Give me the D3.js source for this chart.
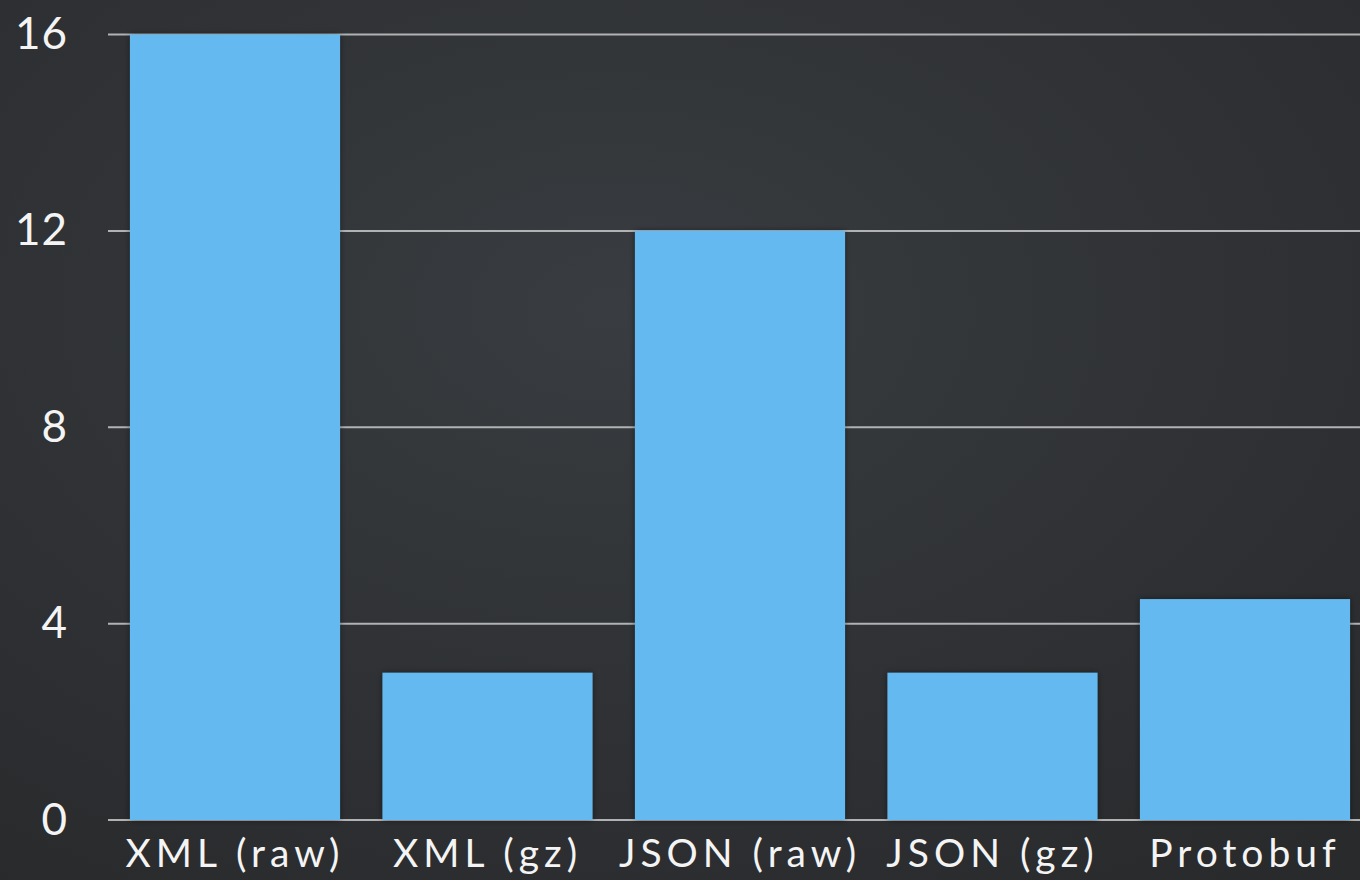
<!DOCTYPE html>
<html>
<head>
<meta charset="utf-8">
<script src="https://cdn.jsdelivr.net/npm/d3@7"></script>
<style>
  html, body { margin: 0; padding: 0; background: #2d3033; }
  svg { display: block; }
</style>
</head>
<body>
<div id="chart"></div>
<script>
// Chart data
var formats = ["XML (raw)", "XML (gz)", "JSON (raw)", "JSON (gz)", "Protobuf"];
var sizes = [16, 3, 12, 3, 4.5];
var yTicks = [0, 4, 8, 12, 16];

var svgWidth = 1360;
var svgHeight = 880;

var margin = { top: 34.5, right: 0, bottom: 60, left: 108 };
var plotBottom = svgHeight - margin.bottom; // 820

var svg = d3.select("#chart")
  .append("svg")
  .attr("width", svgWidth)
  .attr("height", svgHeight);

// background with a soft vignette
var defs = svg.append("defs");
var grad = defs.append("radialGradient")
  .attr("id", "bg")
  .attr("cx", "45%").attr("cy", "35%").attr("r", "80%");
grad.append("stop").attr("offset", "0%").attr("stop-color", "#393c40");
grad.append("stop").attr("offset", "100%").attr("stop-color", "#282a2c");

var shadow = defs.append("filter").attr("id", "shadow")
  .attr("x", "-10%").attr("y", "-10%").attr("width", "120%").attr("height", "120%");
shadow.append("feDropShadow")
  .attr("dx", 0).attr("dy", 0).attr("stdDeviation", 3)
  .attr("flood-color", "#000").attr("flood-opacity", 0.45);

svg.append("rect")
  .attr("width", svgWidth)
  .attr("height", svgHeight)
  .attr("fill", "url(#bg)");

// scales
var x = d3.scaleBand()
  .domain(formats)
  .range([margin.left, 1372])
  .paddingInner(0.168)
  .paddingOuter(0.087);

var y = d3.scaleLinear()
  .domain([0, 16])
  .range([plotBottom, margin.top]);

// gridlines
svg.append("g")
  .selectAll("line")
  .data(yTicks)
  .enter()
  .append("line")
  .attr("x1", margin.left)
  .attr("x2", svgWidth)
  .attr("y1", d => y(d))
  .attr("y2", d => y(d))
  .attr("stroke", "#b0b2b4")
  .attr("stroke-width", 2);

// y axis labels
var yAxis = svg.append("g")
  .attr("transform", `translate(${margin.left - 40},0)`)
  .call(d3.axisLeft(y).tickValues(yTicks).tickSize(0).tickPadding(0));
yAxis.select(".domain").remove();
yAxis.selectAll("text")
  .attr("fill", "#f4f4f4")
  .style("font-family", "Lato, 'Open Sans', sans-serif")
  .style("font-size", "44px")
  .style("letter-spacing", "1px");

// bars
svg.append("g")
  .selectAll("rect")
  .data(sizes)
  .enter()
  .append("rect")
  .attr("x", (d, i) => x(formats[i]))
  .attr("y", d => y(d))
  .attr("width", x.bandwidth())
  .attr("height", d => plotBottom - y(d))
  .attr("fill", "#65b9f1")
  .attr("filter", "url(#shadow)");

// x axis labels
var xAxis = svg.append("g")
  .attr("transform", `translate(0,${plotBottom})`)
  .call(d3.axisBottom(x).tickSize(0).tickPadding(19));
xAxis.select(".domain").remove();
xAxis.selectAll("text")
  .attr("fill", "#f4f4f4")
  .attr("dy", "0.71em")
  .style("font-family", "Lato, 'Open Sans', sans-serif")
  .style("font-size", "39px")
  .style("letter-spacing", "5px");
</script>
</body>
</html>
